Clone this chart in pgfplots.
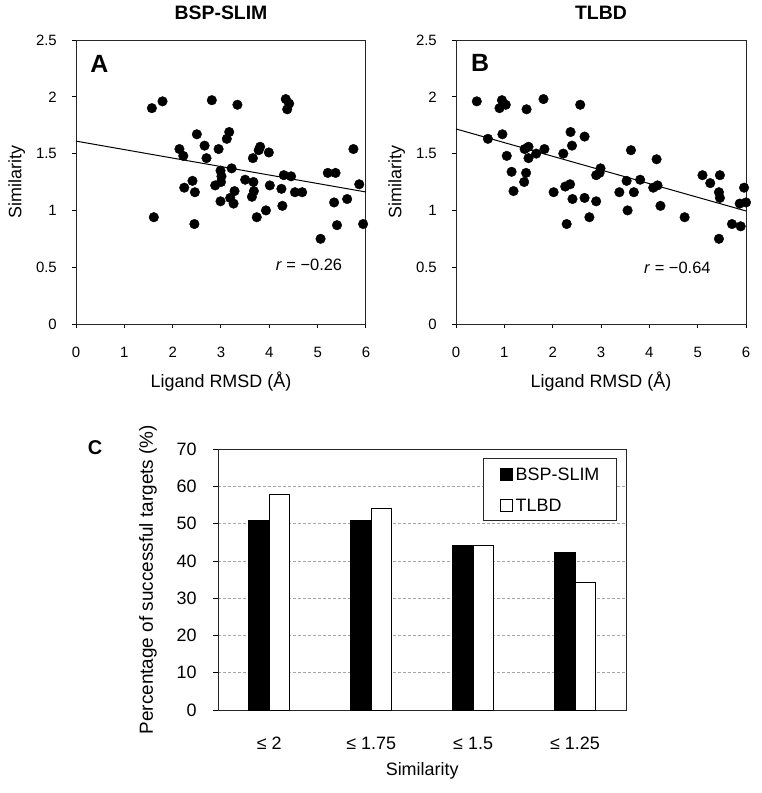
\documentclass[border=0pt]{standalone}
\usepackage{fontspec}
\setmainfont{Liberation Sans}
\usepackage{pgfplots}
\pgfplotsset{compat=1.18}
\pgfplotsset{sqlegend/.style={legend image code/.code={\draw[##1] (0bp,-5.85bp) rectangle (11.7bp,5.85bp);}}}

\pgfplotstableread{
x y
1.57 1.90
1.79 1.96
2.81 1.97
3.34 1.93
4.34 1.98
4.41 1.94
4.37 1.89
1.61 0.94
2.50 1.67
2.14 1.54
2.22 1.48
2.66 1.57
2.70 1.46
2.95 1.54
3.12 1.63
3.17 1.69
3.22 1.37
2.99 1.35
3.01 1.30
3.00 1.25
2.88 1.22
2.41 1.26
2.24 1.20
2.46 1.16
2.45 0.88
2.99 1.08
3.19 1.11
3.28 1.17
3.26 1.06
3.50 1.27
3.67 1.25
3.66 1.46
3.78 1.53
3.81 1.56
3.99 1.51
3.68 1.17
3.64 1.12
3.74 0.94
3.93 1.00
4.01 1.22
4.25 1.19
4.27 1.04
4.30 1.31
4.45 1.30
4.53 1.16
4.68 1.16
5.06 0.75
5.21 1.33
5.37 1.33
5.34 1.07
5.40 0.87
5.61 1.10
5.74 1.54
5.86 1.23
5.94 0.88
}\dataA

\pgfplotstableread{
x y
0.43 1.96
0.66 1.63
0.95 1.97
0.90 1.90
1.03 1.93
0.96 1.67
1.05 1.48
1.15 1.34
1.19 1.17
1.46 1.89
1.42 1.54
1.50 1.56
1.50 1.46
1.66 1.50
1.45 1.33
1.41 1.25
1.81 1.98
1.83 1.54
2.02 1.16
2.22 1.50
2.26 1.21
2.36 1.23
2.29 0.88
2.37 1.69
2.40 1.57
2.41 1.10
2.57 1.93
2.66 1.65
2.66 1.11
2.76 0.94
2.90 1.08
2.90 1.31
2.97 1.33
2.99 1.37
3.38 1.16
3.53 1.26
3.55 1.00
3.62 1.53
3.68 1.16
3.81 1.27
4.08 1.20
4.17 1.22
4.15 1.45
4.23 1.04
4.73 0.94
5.10 1.31
5.26 1.24
5.46 1.31
5.44 1.16
5.46 1.11
5.44 0.75
5.71 0.88
5.89 0.86
5.87 1.06
5.96 1.20
6.00 1.07
}\dataB

\pgfplotstableread{
x bsp tlbd
0 50.8 57.8
1 51.0 54.0
2 44.3 44.3
3 42.2 34.3
}\dataC

\begin{document}
\begin{tikzpicture}
\path[use as bounding box] (0,0) rectangle (762bp,-793bp);

\pgfplotsset{scat/.style={
  scale only axis, width=290bp, height=284bp,
  xmin=0, xmax=6, ymin=0, ymax=2.5,
  xtick={0,1,2,3,4,5,6}, ytick={0,0.5,1,1.5,2,2.5},
  tick pos=left, tick align=outside, major tick length=4bp,
  axis line style={black!85, line width=1bp},
  tick style={black, line width=1bp},
  /pgf/number format/assume math mode=true,
  tick label style={font=\fontsize{15}{18}\selectfont, inner sep=0pt},
  xticklabel style={anchor=base, yshift=-29.5bp},
  yticklabel style={anchor=east, xshift=-15bp},
  label style={font=\fontsize{18}{21}\selectfont},
  xlabel={Ligand RMSD (Å)},
  ylabel={Similarity},
  xlabel style={at={(axis description cs:0.5,-0.204)}, anchor=center},
  ylabel style={at={(axis description cs:-0.2045,0.5)}, anchor=center},
  title style={font=\bfseries\fontsize{19.5}{22}\selectfont, at={(axis description cs:0.5,1)}, anchor=base, yshift=14.5bp},
  clip=false,
}}

\begin{axis}[scat, at={(76bp,-324bp)}, anchor=south west, title={BSP-SLIM}]
\addplot[only marks, mark=*, mark size=4.8bp, black] table[x=x,y=y] {\dataA};
\addplot[black, line width=1bp] coordinates {(0,1.61) (6,1.162)};
\node[font=\bfseries\fontsize{25}{28}\selectfont] at (axis cs:0.486,2.29) {A};
\node[font=\fontsize{16.5}{19}\selectfont] at (axis cs:4.82,0.52) {\textit{r} = −0.26};
\end{axis}

\begin{axis}[scat, at={(456bp,-324bp)}, anchor=south west, title={TLBD}]
\addplot[only marks, mark=*, mark size=4.8bp, black] table[x=x,y=y] {\dataB};
\addplot[black, line width=1bp] coordinates {(0,1.717) (6,0.995)};
\node[font=\bfseries\fontsize{25}{28}\selectfont] at (axis cs:0.497,2.295) {B};
\node[font=\fontsize{16.5}{19}\selectfont] at (axis cs:4.58,0.493) {\textit{r} = −0.64};
\end{axis}

\node[font=\bfseries\fontsize{20}{23}\selectfont] at (95bp,-448bp) {C};

\begin{axis}[at={(218.3bp,-710bp)}, anchor=south west,
  scale only axis, width=407.7bp, height=260.7bp,
  xmin=-0.5, xmax=3.5, ymin=0, ymax=70,
  xtick={0,1,2,3}, xticklabels={≤ 2, ≤ 1.75, ≤ 1.5, ≤ 1.25},
  ytick={0,10,20,30,40,50,60,70},
  ymajorgrids, grid style={densely dashed, gray!70, line width=0.6bp},
  ytick pos=left, tick align=outside, major tick length=5bp,
  xtick style={draw=none},
  ytick style={black, line width=1bp},
  axis line style={black!85, line width=1bp},
  /pgf/number format/assume math mode=true,
  tick label style={font=\fontsize{18}{21}\selectfont, inner sep=0pt},
  xticklabel style={anchor=base, yshift=-34bp},
  yticklabel style={anchor=east, xshift=-16.6bp},
  xlabel={Similarity},
  ylabel={Percentage of successful targets (\%)},
  xlabel style={font=\fontsize{18}{21}\selectfont, at={(axis description cs:0.5,-0.234)}, anchor=center},
  ylabel style={font=\fontsize{19}{22}\selectfont, at={(axis description cs:-0.1724,0.5)}, anchor=center},
  legend style={at={(0.977,0.9655)}, anchor=north east, draw=black!85, line width=1bp,
    font=\fontsize{18}{21}\selectfont, nodes={inner sep=0pt, text height=13bp, text depth=0pt},
    row sep=18bp, inner xsep=16.7bp, inner ysep=9bp, column sep=2.7bp},
  legend cell align=left,
]
\addplot[ybar, bar width=0.2, bar shift=-0.1, fill=black, draw=black, line width=1bp, sqlegend]
  table[x=x,y=bsp] {\dataC};
\addplot[ybar, bar width=0.2, bar shift=0.1, fill=white, draw=black, line width=1bp, sqlegend]
  table[x=x,y=tlbd] {\dataC};
\legend{BSP-SLIM,TLBD}
\end{axis}
\end{tikzpicture}
\end{document}
